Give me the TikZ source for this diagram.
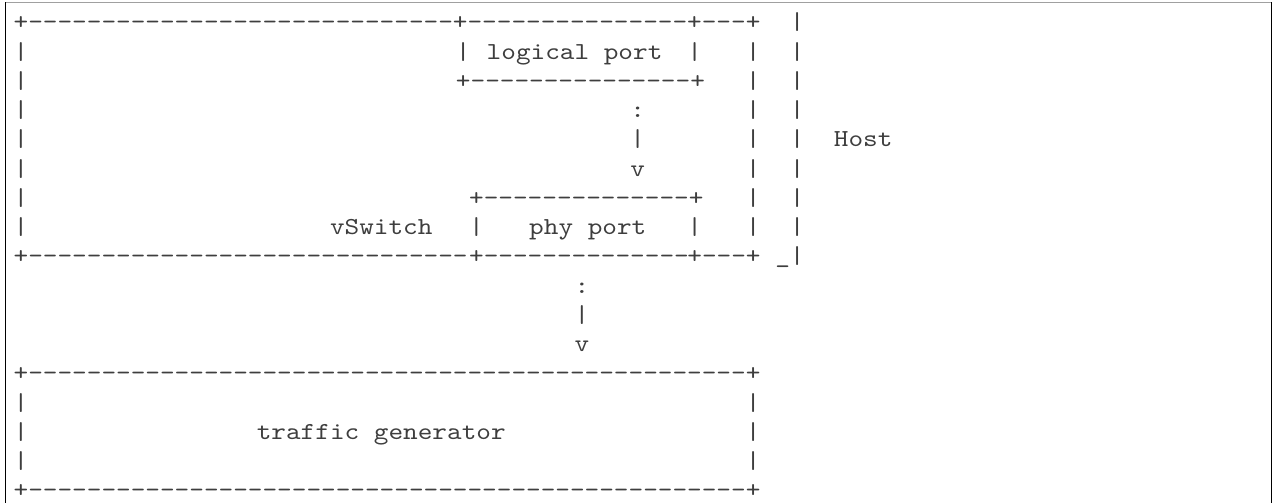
\documentclass[tikz,border=0pt]{standalone}
\usepackage{fontspec}
\setmonofont{lmmono10-regular.otf}[FakeStretch=1.143]
\ExplSyntaxOn
\cs_new:Npn \asciirule #1 { \prg_replicate:nn {#1} {-} }
\ExplSyntaxOff
\definecolor{inkgray}{RGB}{62,62,62}
\definecolor{framegray}{RGB}{160,160,160}
\tikzset{
  ascii/.style={anchor=base west, inner sep=0pt, outer sep=0pt, text=inkgray,
    font=\ttfamily\fontsize{12.2pt}{14.6pt}\selectfont, yshift=-3.3pt},
}
\begin{document}
\begin{tikzpicture}[x=0.5pt,y=-0.5pt]
\useasboundingbox (0,0) rectangle (1274,503);
% frame of the literal block
\draw[framegray, line width=0.5pt] (5.7,2.3) -- (1271.3,2.3);
\draw[black, line width=0.6pt] (5.7,2.3) -- (5.7,503);
\draw[black, line width=0.6pt] (1271.3,2.3) -- (1271.3,503);
% character grid: one column = 14.646px, one row = 29.25px
\begin{scope}[shift={(21,23.3)}, x=7.323pt, y=-14.625pt]
% row 1
\node[ascii] (r1) at (-0.5,0) {+\asciirule{29}+\asciirule{15}+\asciirule{3}+};
\node[ascii] (r1h) at (52.5,0) {|};
% row 2
\node[ascii] (r2l) at (-0.5,1) {|};
\node[ascii] (r2a) at (29.7,1) {|};
\node[ascii] (lport) at (31.8,1) {logical port};
\node[ascii] (r2b) at (45.5,1) {|};
\node[ascii] (r2c) at (49.5,1) {|};
\node[ascii] (r2h) at (52.5,1) {|};
% row 3
\node[ascii] (r3l) at (-0.5,2) {|};
\node[ascii] (r3a) at (29.7,2) {+\asciirule{15}+};
\node[ascii] (r3c) at (49.5,2) {|};
\node[ascii] (r3h) at (52.5,2) {|};
% row 4
\node[ascii] (r4l) at (-0.5,3) {|};
\node[ascii] (a1) at (41.6,3) {:};
\node[ascii] (r4c) at (49.5,3) {|};
\node[ascii] (r4h) at (52.5,3) {|};
% row 5
\node[ascii] (r5l) at (-0.5,4) {|};
\node[ascii] (a2) at (41.6,4) {|};
\node[ascii] (r5c) at (49.5,4) {|};
\node[ascii] (r5h) at (52.5,4) {|};
\node[ascii] (host) at (55.5,4) {Host};
% row 6
\node[ascii] (r6l) at (-0.5,5) {|};
\node[ascii] (a3) at (41.6,5) {v};
\node[ascii] (r6c) at (49.5,5) {|};
\node[ascii] (r6h) at (52.5,5) {|};
% row 7
\node[ascii] (r7l) at (-0.5,6) {|};
\node[ascii] (r7a) at (30.6,6) {+\asciirule{14}+};
\node[ascii] (r7c) at (49.5,6) {|};
\node[ascii] (r7h) at (52.5,6) {|};
% row 8
\node[ascii] (r8l) at (-0.5,7) {|};
\node[ascii] (vsw) at (21.1,7) {vSwitch};
\node[ascii] (r8a) at (30.6,7) {|};
\node[ascii] (pport) at (34.7,7) {phy port};
\node[ascii] (r8b) at (45.5,7) {|};
\node[ascii] (r8c) at (49.5,7) {|};
\node[ascii] (r8h) at (52.5,7) {|};
% row 9
\node[ascii] (r9a) at (-0.5,8) {+\asciirule{30}};
\node[ascii] (r9b) at (30.6,8) {+\asciirule{14}};
\node[ascii] (r9c) at (45.5,8) {+\asciirule{3}+};
\node[ascii] (r9h) at (51.5,8) {\_|};
% rows 10-12
\node[ascii] (b1) at (37.8,9) {:};
\node[ascii] (b2) at (37.8,10) {|};
\node[ascii] (b3) at (37.8,11) {v};
% rows 13-17
\node[ascii] (r13) at (-0.5,12) {+\asciirule{49}+};
\node[ascii] (r14l) at (-0.5,13) {|};
\node[ascii] (r14r) at (49.5,13) {|};
\node[ascii] (r15l) at (-0.5,14) {|};
\node[ascii] (tgen) at (16.1,14) {traffic generator};
\node[ascii] (r15r) at (49.5,14) {|};
\node[ascii] (r16l) at (-0.5,15) {|};
\node[ascii] (r16r) at (49.5,15) {|};
\node[ascii] (r17) at (-0.5,16) {+\asciirule{49}+};
\end{scope}
\end{tikzpicture}
\end{document}
